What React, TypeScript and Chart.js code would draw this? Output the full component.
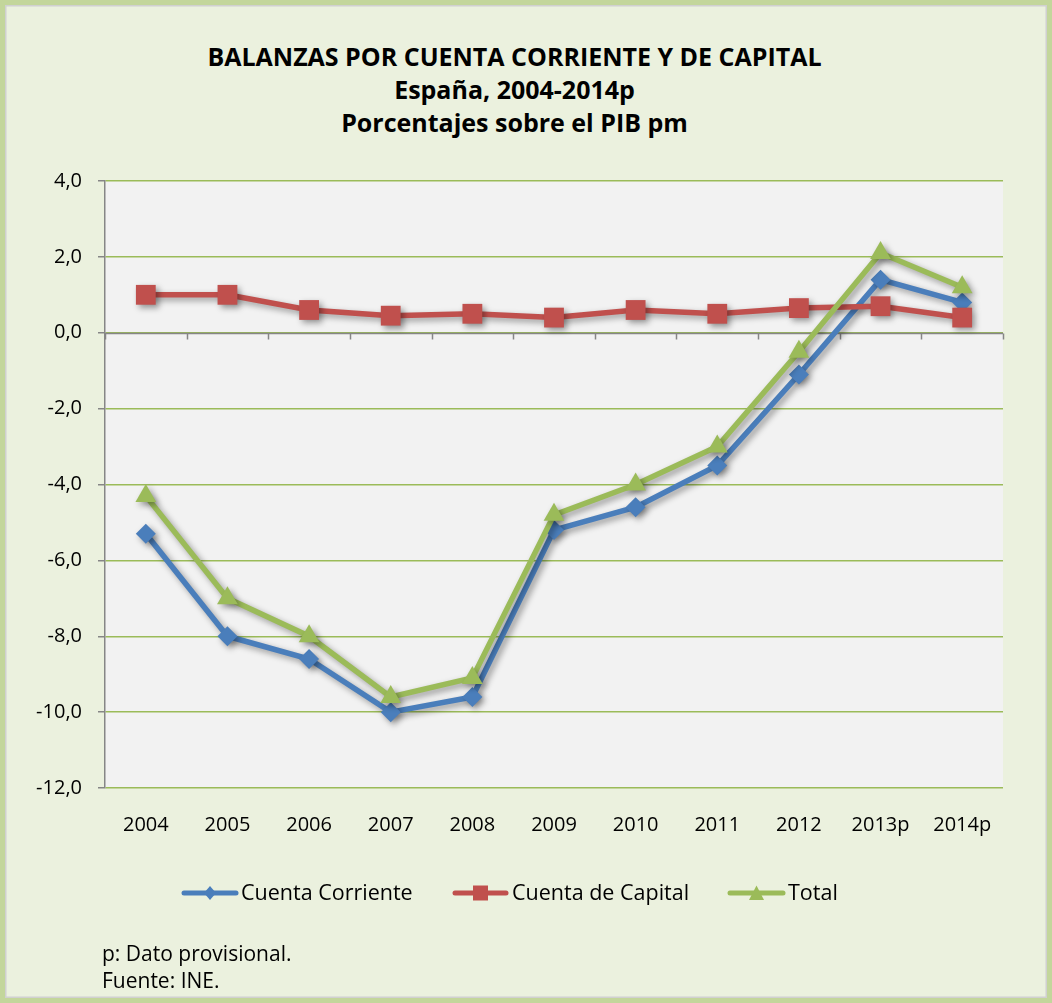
import React, { useEffect, useRef } from "react";
import { Chart, registerables } from "chart.js";

Chart.register(...registerables);

const categories = ["2004", "2005", "2006", "2007", "2008", "2009", "2010", "2011", "2012", "2013p", "2014p"];
const cuentaCorriente = [-5.3, -8.0, -8.6, -10.0, -9.6, -5.2, -4.6, -3.5, -1.1, 1.4, 0.8];
const cuentaCapital = [1.0, 1.0, 0.6, 0.45, 0.5, 0.4, 0.6, 0.5, 0.65, 0.7, 0.4];
const total = [-4.3, -7.0, -8.0, -9.6, -9.1, -4.8, -4.0, -3.0, -0.5, 2.1, 1.2];
const seriesNames = ["Cuenta Corriente", "Cuenta de Capital", "Total"];
const titleLines = ["BALANZAS POR CUENTA CORRIENTE Y DE CAPITAL", "España, 2004-2014p", "Porcentajes sobre el PIB pm"];
const notes = ["p: Dato provisional.", "Fuente: INE."];
const yMin = -12;
const yMax = 4;
const yStep = 2;

const FONT = "'Open Sans', 'DejaVu Sans', sans-serif";
const BLUE = "#4a7ebb";
const RED = "#c0504d";
const GREEN = "#9bbb59";
const colors = [BLUE, RED, GREEN];
const pointStyles = ["rectRot", "rect", "triangle"];

export default function App() {
  const ref = useRef<HTMLCanvasElement | null>(null);

  useEffect(() => {
    document.body.style.margin = "0";
    const canvas = ref.current;
    if (!canvas) return;

    const plotBg = {
      id: "plotBg",
      beforeDraw(chart: any) {
        const { ctx, chartArea } = chart;
        ctx.save();
        ctx.fillStyle = "#f2f2f2";
        ctx.fillRect(chartArea.left, chartArea.top, chartArea.right - chartArea.left, chartArea.bottom - chartArea.top);
        ctx.restore();
      },
    };

    const zeroAxis = {
      id: "zeroAxis",
      beforeDatasetsDraw(chart: any) {
        const { ctx, chartArea, scales } = chart;
        const y0 = Math.round(scales.y.getPixelForValue(0)) + 0.5;
        ctx.save();
        ctx.strokeStyle = "#868686";
        ctx.lineWidth = 1.5;
        ctx.beginPath();
        ctx.moveTo(chartArea.left, y0);
        ctx.lineTo(chartArea.right, y0);
        const n = categories.length;
        const step = scales.x.getPixelForValue(1) - scales.x.getPixelForValue(0);
        for (let i = 0; i <= n; i++) {
          const x = Math.round(scales.x.getPixelForValue(i) - step / 2) + 0.5;
          ctx.moveTo(x, y0);
          ctx.lineTo(x, y0 + 6);
        }
        ctx.stroke();
        ctx.restore();
      },
    };

    const shadow = {
      id: "shadow",
      beforeDatasetDraw(chart: any) {
        const ctx = chart.ctx;
        ctx.save();
        ctx.shadowColor = "rgba(0,0,0,0.38)";
        ctx.shadowBlur = 6;
        ctx.shadowOffsetX = 3;
        ctx.shadowOffsetY = 3;
      },
      afterDatasetDraw(chart: any) {
        chart.ctx.restore();
      },
    };

    const legendPos = [
      { x1: 184, x2: 236, tx: 241 },
      { x1: 455, x2: 506, tx: 512 },
      { x1: 730, x2: 783, tx: 788 },
    ];
    const customLegend = {
      id: "customLegend",
      afterDraw(chart: any) {
        const ctx = chart.ctx;
        const y = 893;
        ctx.save();
        seriesNames.forEach((name, i) => {
          const p = legendPos[i];
          ctx.strokeStyle = colors[i];
          ctx.lineWidth = 5;
          ctx.lineCap = "round";
          ctx.beginPath();
          ctx.moveTo(p.x1, y);
          ctx.lineTo(p.x2, y);
          ctx.stroke();
          ctx.fillStyle = colors[i];
          const cx = (p.x1 + p.x2) / 2;
          ctx.beginPath();
          if (i === 0) {
            ctx.moveTo(cx, y - 7);
            ctx.lineTo(cx + 6, y);
            ctx.lineTo(cx, y + 7);
            ctx.lineTo(cx - 6, y);
          } else if (i === 1) {
            ctx.rect(cx - 7.5, y - 7.5, 15, 15);
          } else {
            ctx.moveTo(cx, y - 7.5);
            ctx.lineTo(cx + 7.5, y + 7);
            ctx.lineTo(cx - 7.5, y + 7);
          }
          ctx.closePath();
          ctx.fill();
          ctx.fillStyle = "#000";
          ctx.font = `21.5px ${FONT}`;
          ctx.textBaseline = "middle";
          ctx.textAlign = "left";
          ctx.fillText(name, p.tx, y + 1);
        });
        ctx.restore();
      },
    };

    const mk = (label: string, data: number[], i: number, order: number, radius: number) => ({
      label,
      data,
      borderColor: colors[i],
      backgroundColor: colors[i],
      borderWidth: 5.5,
      pointStyle: pointStyles[i],
      pointRadius: radius,
      pointBorderWidth: 0,
      pointBackgroundColor: colors[i],
      pointBorderColor: colors[i],
      tension: 0,
      order,
    });

    const chart = new Chart(canvas, {
      type: "line",
      data: {
        labels: categories,
        datasets: [
          mk(seriesNames[0], cuentaCorriente, 0, 3, 10),
          mk(seriesNames[1], cuentaCapital, 1, 2, 14),
          mk(seriesNames[2], total, 2, 1, 12),
        ],
      },
      options: {
        animation: false,
        responsive: false,
        maintainAspectRatio: false,
        layout: { padding: { left: 25, top: 181, right: 49, bottom: 165 } },
        plugins: {
          legend: { display: false },
          title: { display: false },
          tooltip: { enabled: false },
        },
        scales: {
          x: {
            type: "category",
            offset: true,
            grid: { display: false },
            border: { display: false },
            ticks: {
              color: "#000",
              font: { family: FONT, size: 20 },
              padding: 17,
              maxRotation: 0,
              autoSkip: false,
            },
            afterFit(scale: any) {
              scale.height = 50;
            },
          },
          y: {
            min: yMin,
            max: yMax,
            grid: {
              color: GREEN,
              lineWidth: 1.5,
              tickColor: "#868686",
              tickLength: 7,
              drawTicks: true,
            },
            border: { display: true, color: "#868686", width: 1.5 },
            ticks: {
              stepSize: yStep,
              color: "#000",
              font: { family: FONT, size: 20 },
              padding: 16,
              callback: (v: any) => Number(v).toFixed(1).replace(".", ","),
            },
            afterFit(scale: any) {
              scale.width = 80;
            },
          },
        },
      },
      plugins: [plotBg, zeroAxis, shadow, customLegend],
    });

    return () => chart.destroy();
  }, []);

  return (
    <div
      style={{
        position: "relative",
        width: 1052,
        height: 1003,
        background: "#ebf1de",
        boxShadow: "inset 0 0 0 5px #c3d69b, inset 0 0 0 6.5px #d0d0d0",
        fontFamily: FONT,
        overflow: "hidden",
      }}
    >
      <div
        style={{
          position: "absolute",
          left: 0,
          width: 1029,
          top: 40,
          textAlign: "center",
          fontWeight: 700,
          fontSize: 25,
          lineHeight: "33px",
          color: "#000",
        }}
      >
        {titleLines.map((t, i) => (
          <div key={i}>{t}</div>
        ))}
      </div>
      <canvas ref={ref} width={1052} height={1003} style={{ position: "absolute", left: 0, top: 0 }} />
      <div
        style={{
          position: "absolute",
          left: 102,
          top: 940,
          fontSize: 21,
          lineHeight: "27px",
          color: "#000",
        }}
      >
        {notes.map((t, i) => (
          <div key={i}>{t}</div>
        ))}
      </div>
    </div>
  );
}
